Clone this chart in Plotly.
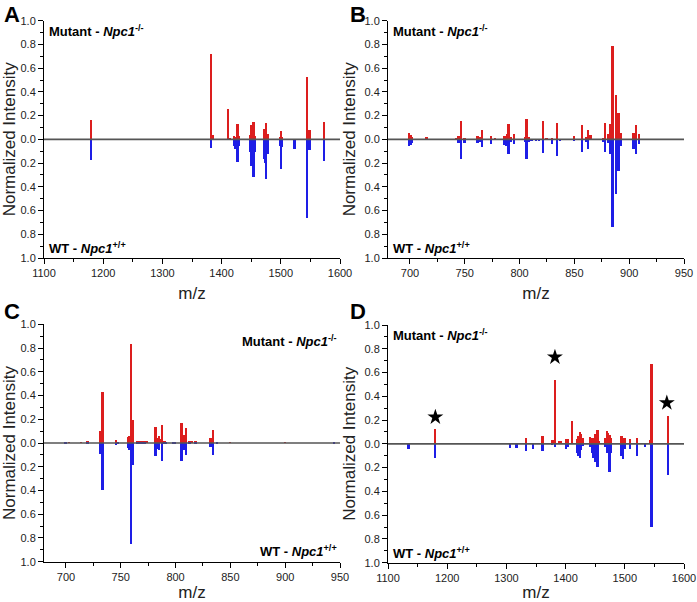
import plotly.graph_objects as go

# ---------------- data ----------------
A_mz = [1180, 1382, 1385, 1411, 1414, 1421, 1424, 1427, 1429, 1448, 1449.7, 1452, 1454.2, 1456.5,
        1471.7, 1474, 1475.6, 1478, 1498.7, 1500.4, 1502, 1523.5, 1545, 1549, 1573]
A_mut = [0.168, 0.725, 0.04, 0.26, 0.01, 0.03, 0.02, 0.135, 0.03, 0.04, 0.12, 0.03, 0.145, 0.03,
         0.09, 0.04, 0.14, 0.05, 0.02, 0.075, 0.02, 0, 0.53, 0.078, 0.148]
A_wt = [0.173, 0.07, 0, 0, 0, 0.05, 0.08, 0.19, 0.05, 0.1, 0.22, 0.22, 0.315, 0.1,
        0.16, 0.2, 0.33, 0.12, 0.05, 0.25, 0.06, 0.08, 0.66, 0.09, 0.18]

B_mz = [699.4, 700.6, 701.8, 715.5, 742.6, 744.4, 746.8, 750, 762, 764, 766, 774.2, 778, 786, 787.6,
        789, 790.3, 792, 795, 805, 806.4, 809, 811, 815, 818, 821.7, 824.7, 830, 834.4, 836.9, 850,
        857.2, 860.6, 862.4, 865, 876.4, 878.2, 880.7, 883, 885, 888, 890.4, 892.2, 904, 906.5, 909]
B_mut = [0.056, 0.04, 0.02, 0.025, 0.01, 0.03, 0.155, 0.01, 0.03, 0.02, 0.078, 0.035, 0.01, 0.03, 0.035,
         0.05, 0.13, 0.02, 0.05, 0.02, 0.175, 0.02, 0, 0, 0, 0.155, 0.01, 0.01, 0.137, 0, 0.035,
         0.12, 0.02, 0.08, 0.04, 0.01, 0.137, 0.05, 0.13, 0.79, 0.375, 0.225, 0.06, 0.055, 0.125, 0.045]
B_wt = [0.056, 0.045, 0.03, 0, 0, 0.03, 0.16, 0.03, 0.03, 0.02, 0.06, 0.035, 0, 0.045, 0.05,
        0.02, 0.12, 0.02, 0.04, 0.02, 0.165, 0.02, 0.01, 0.01, 0.015, 0.11, 0, 0.04, 0.135, 0.01, 0.01,
        0.105, 0.02, 0.08, 0, 0.02, 0.107, 0.03, 0.125, 0.74, 0.455, 0.26, 0.055, 0.075, 0.125, 0.04]

C_mz = [700, 703, 714, 720, 731.1, 733.5, 746, 747.5, 757.3, 758.2, 759.8, 761.6, 765, 767, 769, 772, 774,
        782, 783.8, 785.4, 786.6, 788.1, 790.2, 791.5, 797.9, 799.4, 805.8, 807.3, 808.5, 810, 813, 814.8,
        818.3, 832, 834.1, 837.8, 850, 900, 945]
C_mut = [0.005, 0.005, 0.005, 0.008, 0.095, 0.423, 0.02, 0, 0.05, 0.06, 0.83, 0.19, 0.01, 0.01, 0.01, 0.008, 0.008,
         0.13, 0.04, 0.06, 0.035, 0.145, 0.015, 0, 0, 0, 0.168, 0.05, 0.065, 0.12, 0.01, 0.01,
         0.01, 0.04, 0.11, 0, 0.005, 0.005, 0.005]
C_wt = [0.005, 0, 0, 0.005, 0.092, 0.40, 0.02, 0.01, 0.045, 0.06, 0.85, 0.185, 0.01, 0.01, 0.008, 0.005, 0,
        0.115, 0.05, 0.06, 0, 0.157, 0.015, 0.01, 0.015, 0.015, 0.157, 0.035, 0.06, 0.105, 0.01, 0,
        0.005, 0.04, 0.105, 0.01, 0, 0, 0.005]

D_mz = [1135, 1180, 1306.4, 1317.7, 1334, 1345.8, 1361.5, 1377.8, 1380.6, 1382.9, 1390.2, 1393, 1401.5, 1404.3,
        1411, 1420, 1422.3, 1424.6, 1426.9, 1429, 1442, 1445.4, 1447.7, 1449.9, 1452.2, 1454.3, 1456.6,
        1467.8, 1470, 1472.3, 1474.6, 1476.8, 1494.8, 1497.6, 1499.9, 1509.4, 1521.3, 1534.2, 1542.6, 1545.4, 1573]
D_mut = [0, 0.127, 0, 0, 0.05, 0, 0.065, 0.03, 0.035, 0.54, 0.025, 0.02, 0.04, 0.045,
         0.195, 0.04, 0.07, 0.1, 0.08, 0.05, 0.055, 0.05, 0.05, 0.08, 0.07, 0.113, 0.02,
         0.05, 0.107, 0.09, 0.075, 0.05, 0.065, 0.045, 0.05, 0.04, 0.05, 0, 0.03, 0.676, 0.234]
D_wt = [0.04, 0.118, 0.035, 0.035, 0.062, 0.045, 0.056, 0.01, 0, 0.023, 0, 0, 0.045, 0.03,
        0, 0.08, 0.1, 0.12, 0.05, 0.02, 0.03, 0.08, 0.12, 0.15, 0.1, 0.197, 0,
        0.03, 0.08, 0.08, 0.24, 0.08, 0.1, 0.13, 0.04, 0.045, 0.1, 0.03, 0, 0.7, 0.26]
D_star_mz = [1180, 1382, 1571]
D_star_y = [0.225, 0.73, 0.345]

Y_TICKS = [-1.0, -0.8, -0.6, -0.4, -0.2, 0.0, 0.2, 0.4, 0.6, 0.8, 1.0]
Y_LABELS = ["1.0", "0.8", "0.6", "0.4", "0.2", "0.0", "0.2", "0.4", "0.6", "0.8", "1.0"]
Y_MINOR = [-0.9, -0.7, -0.5, -0.3, -0.1, 0.1, 0.3, 0.5, 0.7, 0.9]

PANEL_LETTERS = ["A", "B", "C", "D"]
MUT_TEXT = "<b>Mutant - <i>Npc1</i><sup>-/-</sup></b>"
WT_TEXT = "<b>WT - <i>Npc1</i><sup>+/+</sup></b>"

RED = "#dc1e1e"
BLUE = "#1e1ee6"
FONT = "Liberation Sans"

W, H = 697, 602


def px_x(p):
    return p / W


def px_y(p):
    return 1 - p / H


panels = [
    # mz, mut, wt, xrange, tick0, dtick, minor, domain x px, domain y px, bar width, letter pos px
    (A_mz, A_mut, A_wt, [1100, 1600], 1100, 100, 50, (44, 340), (20.7, 258), 3.2, (2, 0)),
    (B_mz, B_mut, B_wt, [680, 950], 700, 50, 25, (388, 684), (20.7, 258), 1.7, (348, 0)),
    (C_mz, C_mut, C_wt, [680, 950], 700, 50, 25, (44, 340), (324.3, 561.7), 1.7, (2, 297)),
    (D_mz, D_mut, D_wt, [1100, 1600], 1100, 100, 50, (388, 684), (325, 562.7), 3.2, (348, 297)),
]

fig = go.Figure()
layout = {}
annotations = []
shapes = []

for i, (mz, mut, wt, xr, t0, dt, mdt, dx, dy, bw, lp) in enumerate(panels):
    name = PANEL_LETTERS[i]
    n = "" if i == 0 else str(i + 1)
    xa, ya = "x" + n, "y" + n
    fig.add_trace(go.Bar(x=mz, y=mut, width=bw, marker=dict(color=RED, line=dict(width=0)),
                         xaxis=xa, yaxis=ya, showlegend=False))
    fig.add_trace(go.Bar(x=mz, y=[-v for v in wt], width=bw, marker=dict(color=BLUE, line=dict(width=0)),
                         xaxis=xa, yaxis=ya, showlegend=False))
    layout["xaxis" + n] = dict(
        domain=[px_x(dx[0]), px_x(dx[1])], range=xr, anchor=ya, automargin=False,
        tick0=t0, dtick=dt, ticks="outside", ticklen=5, tickwidth=1, tickcolor="black",
        minor=dict(dtick=mdt, tick0=t0, ticks="outside", ticklen=3, tickcolor="black"),
        showline=True, linecolor="black", linewidth=1, showgrid=False, zeroline=False,
        tickfont=dict(family=FONT, size=11, color="#222"),
        title=dict(text="m/z", font=dict(family=FONT, size=17, color="#222"), standoff=8),
    )
    layout["yaxis" + n] = dict(
        domain=[px_y(dy[1]), px_y(dy[0])], range=[-1, 1], anchor=xa, automargin=False,
        tickmode="array", tickvals=Y_TICKS, ticktext=Y_LABELS,
        ticks="outside", ticklen=5, tickwidth=1, tickcolor="black",
        minor=dict(tickvals=Y_MINOR, ticks="outside", ticklen=3, tickcolor="black"),
        showline=True, linecolor="black", linewidth=1, showgrid=False, zeroline=False,
        tickfont=dict(family=FONT, size=11, color="#222"),
        title=dict(text="Normalized Intensity", font=dict(family=FONT, size=17, color="#222"), standoff=4),
    )
    shapes.append(dict(type="line", xref=xa + " domain", yref=ya, x0=0, x1=1, y0=0, y1=0,
                       line=dict(color="#555555", width=1.6), layer="above"))
    # panel letter
    annotations.append(dict(text="<b>%s</b>" % name, xref="paper", yref="paper",
                            x=px_x(lp[0]), y=px_y(lp[1]),
                            xanchor="left", yanchor="top", showarrow=False,
                            font=dict(family=FONT, size=22, color="black")))
    if name == "C":
        annotations.append(dict(text=MUT_TEXT, xref=xa + " domain", yref=ya + " domain", x=0.995, y=0.97,
                                xanchor="right", yanchor="top", showarrow=False,
                                font=dict(family=FONT, size=13, color="black")))
        annotations.append(dict(text=WT_TEXT, xref=xa + " domain", yref=ya + " domain", x=0.995, y=0.005,
                                xanchor="right", yanchor="bottom", showarrow=False,
                                font=dict(family=FONT, size=13, color="black")))
    else:
        annotations.append(dict(text=MUT_TEXT, xref=xa + " domain", yref=ya + " domain", x=0.01, y=1.0,
                                xanchor="left", yanchor="top", showarrow=False,
                                font=dict(family=FONT, size=13, color="black")))
        annotations.append(dict(text=WT_TEXT, xref=xa + " domain", yref=ya + " domain", x=0.01, y=0.0,
                                xanchor="left", yanchor="bottom", showarrow=False,
                                font=dict(family=FONT, size=13, color="black")))

fig.add_trace(go.Scatter(x=D_star_mz, y=D_star_y, mode="markers", xaxis="x4", yaxis="y4",
                         marker=dict(symbol="star", size=12, color="black"), showlegend=False))

fig.update_layout(**layout)
fig.update_layout(width=W, height=H, margin=dict(l=0, r=0, t=0, b=0, autoexpand=False),
                  paper_bgcolor="white", plot_bgcolor="white",
                  barmode="overlay", bargap=0, hovermode=False,
                  annotations=annotations, shapes=shapes,
                  font=dict(family=FONT))

fig.write_html("out.html", config={"displayModeBar": False},
               post_script="document.body.style.margin='0px';")
